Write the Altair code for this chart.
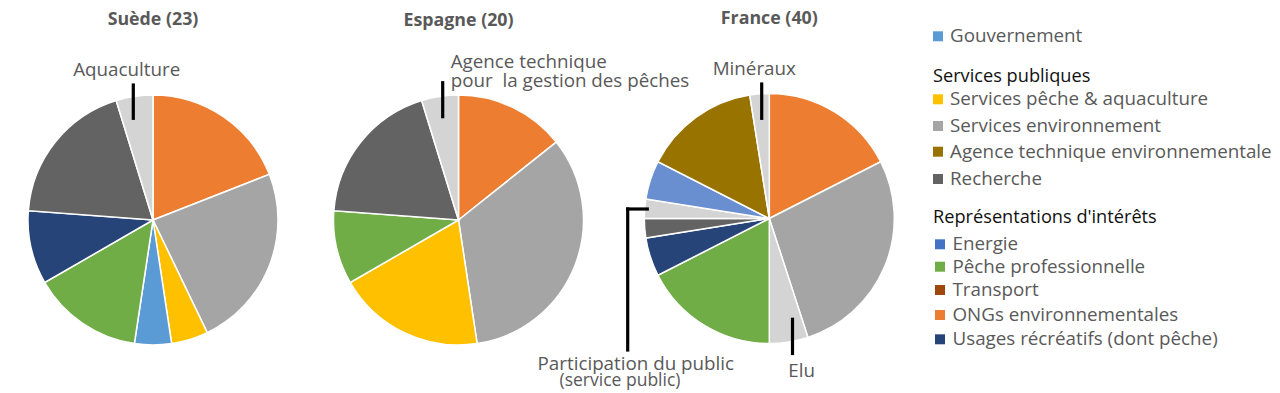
import math
import altair as alt
import pandas as pd

# ---------------- data ----------------
countries = ["Suède (23)", "Espagne (20)", "France (40)"]

suede_cats = ["ONGs environnementales", "Services environnement", "Services pêche & aquaculture",
              "Gouvernement", "Pêche professionnelle", "Usages récréatifs (dont pêche)",
              "Recherche", "Aquaculture"]
suede_vals = [4, 5, 1, 1, 3, 2, 4, 1]

espagne_cats = ["ONGs environnementales", "Services environnement", "Services pêche & aquaculture",
                "Pêche professionnelle", "Recherche", "Agence technique pour la gestion des pêches"]
espagne_vals = [3, 7, 4, 2, 4, 1]

france_cats = ["ONGs environnementales", "Services environnement", "Elu", "Pêche professionnelle",
               "Usages récréatifs (dont pêche)", "Recherche", "Participation du public",
               "Energie", "Agence technique environnementale", "Minéraux"]
france_vals = [7, 11, 2, 7, 2, 1, 1, 2, 6, 1]

legend_labels = ["Gouvernement",
                 "Services pêche & aquaculture", "Services environnement",
                 "Agence technique environnementale", "Recherche",
                 "Energie", "Pêche professionnelle", "Transport",
                 "ONGs environnementales", "Usages récréatifs (dont pêche)"]
legend_headers = ["Services publiques", "Représentations d'intérêts"]

center_texts = ["Aquaculture", "Minéraux", "Elu", "Participation du public"]
left_texts = ["Agence technique", "pour\u00a0 la gestion des pêches"]
small_texts = ["(service public)"]

# ---------------- styles / layout ----------------
SLICE_COLORS = {
    "ONGs environnementales": "#ED7D31",
    "Services environnement": "#A5A5A5",
    "Services pêche & aquaculture": "#FFC000",
    "Gouvernement": "#5B9BD5",
    "Pêche professionnelle": "#70AD47",
    "Usages récréatifs (dont pêche)": "#264478",
    "Recherche": "#636363",
    "Aquaculture": "#D4D4D4",
    "Agence technique pour la gestion des pêches": "#D4D4D4",
    "Elu": "#D4D4D4",
    "Participation du public": "#D4D4D4",
    "Minéraux": "#D4D4D4",
    "Energie": "#6A8FD0",
    "Agence technique environnementale": "#997300",
    "Transport": "#9E480E",
}
LEGEND_COLORS = ["#5B9BD5", "#FFC000", "#A5A5A5", "#997300", "#636363",
                 "#4472C4", "#70AD47", "#9E480E", "#ED7D31", "#264478"]

PIE_CX = [153, 458.5, 769.3]
PIE_CY = [220, 220, 218.5]
RADIUS = 125
TITLE_Y = [20, 20.5, 18.5]

LEG_Y = [36.3, 99.3, 126, 151.7, 179, 244.3, 266.7, 290, 315, 339.3]
LEG_SQ_X = [938] * 5 + [940] * 5
LEG_TX_X = [950] * 5 + [952.5] * 5
HEAD_X = [933, 933]
HEAD_Y = [76.7, 218.3]

FONT = "Open Sans"
GREY_TXT = "#595959"

W, H = 1264, 385
xs = alt.Scale(domain=[8, 8 + W], nice=False, zero=False)
ys = alt.Scale(domain=[8 + H, 8], nice=False, zero=False)

# ---------------- tables ----------------
rows = []
for ci, (cats, vals) in enumerate([(suede_cats, suede_vals), (espagne_cats, espagne_vals),
                                   (france_cats, france_vals)]):
    for k, (c, v) in enumerate(zip(cats, vals)):
        rows.append(dict(country=countries[ci], category=c, count=v, order=k,
                         cx=PIE_CX[ci], cy=PIE_CY[ci], color=SLICE_COLORS[c]))
pie_df = pd.DataFrame(rows)

title_df = pd.DataFrame(dict(t=countries, x=PIE_CX, y=TITLE_Y))

center_lbl = pd.DataFrame(dict(t=center_texts,
                               x=[126.7, 754.3, 801.7, 635.8],
                               y=[70, 69.3, 370.7, 364]))
left_lbl = pd.DataFrame(dict(t=left_texts, x=[450.7, 450.7], y=[61.5, 81]))
small_lbl = pd.DataFrame(dict(t=small_texts, x=[620], y=[381]))

leaders = pd.DataFrame(dict(
    x=[133.3, 442.7, 761.7, 792.5, 627.7, 627.7],
    y=[85, 82.7, 84, 319.3, 209, 209],
    x2=[133.3, 442.7, 761.7, 792.5, 627.7, 647.3],
    y2=[118.3, 116.7, 118.3, 353.5, 350, 209]))

leg_df = pd.DataFrame(dict(label=legend_labels, color=LEGEND_COLORS,
                           sx=LEG_SQ_X, tx=LEG_TX_X, y=LEG_Y))
head_df = pd.DataFrame(dict(t=legend_headers, x=HEAD_X, y=HEAD_Y))

X = lambda f: alt.X(f, scale=xs, axis=None)
Y = lambda f: alt.Y(f, scale=ys, axis=None)

# ---------------- layers ----------------
pies = (
    alt.Chart(pie_df)
    .transform_joinaggregate(total="sum(count)", groupby=["country"])
    .transform_window(cum="sum(count)", groupby=["country"],
                      sort=[alt.SortField("order", order="ascending")])
    .transform_calculate(start="(datum.cum - datum.count) / datum.total",
                         end="datum.cum / datum.total")
    .mark_arc(outerRadius=RADIUS, stroke="white", strokeWidth=1.5)
    .encode(
        x=alt.X("cx:Q", scale=xs, axis=None, stack=None),
        y=alt.Y("cy:Q", scale=ys, axis=None, stack=None),
        theta=alt.Theta("start:Q", scale=alt.Scale(domain=[0, 1], range=[0, 2 * math.pi]),
                        stack=None),
        theta2="end:Q",
        color=alt.Color("color:N", scale=None),
        order=alt.Order("order:Q"),
    )
)

titles = alt.Chart(title_df).mark_text(
    font=FONT, fontSize=17.8, fontWeight="bold", color=GREY_TXT, baseline="middle"
).encode(x=X("x:Q"), y=Y("y:Q"), text="t:N")

lbl_c = alt.Chart(center_lbl).mark_text(
    font=FONT, fontSize=18.8, color=GREY_TXT, baseline="middle", align="center"
).encode(x=X("x:Q"), y=Y("y:Q"), text="t:N")

lbl_l = alt.Chart(left_lbl).mark_text(
    font=FONT, fontSize=18.8, color=GREY_TXT, baseline="middle", align="left"
).encode(x=X("x:Q"), y=Y("y:Q"), text="t:N")

lbl_s = alt.Chart(small_lbl).mark_text(
    font=FONT, fontSize=17.5, color=GREY_TXT, baseline="middle", align="center"
).encode(x=X("x:Q"), y=Y("y:Q"), text="t:N")

lead = alt.Chart(leaders).mark_rule(color="black", strokeWidth=3.2, strokeCap="square").encode(
    x=X("x:Q"), y=Y("y:Q"), x2="x2:Q", y2="y2:Q")

leg_sq = alt.Chart(leg_df).mark_square(size=100, opacity=1).encode(
    x=X("sx:Q"), y=Y("y:Q"), color=alt.Color("color:N", scale=None))

leg_tx = alt.Chart(leg_df).mark_text(
    font=FONT, fontSize=18.8, color=GREY_TXT, baseline="middle", align="left"
).encode(x=X("tx:Q"), y=Y("y:Q"), text="label:N")

heads = alt.Chart(head_df).mark_text(
    font=FONT, fontSize=18.2, color="#111111", baseline="middle", align="left"
).encode(x=X("x:Q"), y=Y("y:Q"), text="t:N")

chart = (
    alt.layer(pies, titles, lbl_c, lbl_l, lbl_s, lead, leg_sq, leg_tx, heads)
    .properties(width=W, height=H, padding=0,
                autosize=alt.AutoSizeParams(type="none"))
    .configure_view(stroke=None)
)

chart.save("out.html", embed_options={"renderer": "svg", "actions": False})
